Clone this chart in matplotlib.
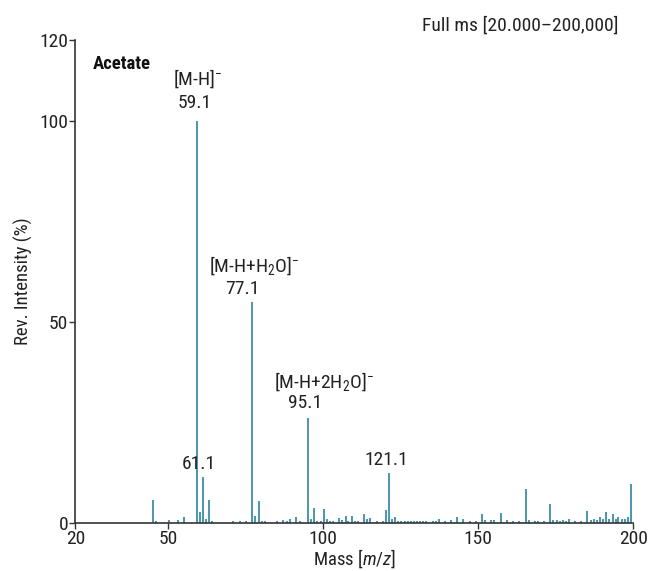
import matplotlib.pyplot as plt
import matplotlib

matplotlib.rcParams['font.family'] = ['Roboto Condensed', 'Archivo Narrow',
                                      'Liberation Sans', 'DejaVu Sans']
matplotlib.rcParams['mathtext.fontset'] = 'custom'
matplotlib.rcParams['mathtext.rm'] = 'Roboto Condensed'
matplotlib.rcParams['mathtext.it'] = 'Roboto Condensed:italic'
matplotlib.rcParams['font.size'] = 13

# m/z and relative intensity (%) of the spectrum lines
mz = [45.0, 46.0, 50.2, 53.1, 55.1, 59.1, 60.1, 61.1, 62.1, 63.0, 64.0,
      71.0, 73.1, 75.1, 77.1, 78.1, 79.2, 80.1, 81.1, 85.2, 87.1, 88.2, 89.3,
      91.2, 92.5, 95.1, 96.1, 97.1, 98.0, 99.3, 100.2, 101.2, 102.1, 103.2,
      105.0, 106.1, 107.2, 108.1, 109.3, 110.3, 111.2, 113.1, 114.1, 115.2,
      117.2, 119.2, 120.1, 121.1, 122.2, 123.1, 124.2, 125.2, 126.2, 127.2,
      128.2, 129.2, 130.2, 131.2, 132.2, 133.2, 135.3, 136.2, 137.2, 139.2,
      141.2, 143.2, 145.2, 147.2, 149.2, 151.2, 152.3, 154.2, 155.2, 157.3,
      159.2, 161.2, 163.1, 165.3, 166.4, 168.2, 169.2, 171.2, 173.1, 174.2,
      175.3, 176.2, 177.2, 178.2, 179.3, 181.2, 183.2, 185.2, 186.3, 187.2,
      188.2, 189.3, 190.2, 191.3, 192.3, 193.4, 194.3, 195.2, 196.3, 197.3,
      198.3, 199.3]
intensity = [5.6, 0.5, 0.7, 0.6, 1.4, 100.0, 2.7, 11.3, 0.9, 5.6, 0.3,
             0.3, 0.5, 0.4, 55.0, 1.7, 5.4, 0.3, 0.5, 0.3, 0.7, 0.5, 0.9,
             1.3, 0.3, 26.1, 0.9, 3.6, 0.4, 0.5, 3.4, 0.9, 0.4, 0.5,
             1.2, 0.6, 1.6, 0.3, 1.7, 0.3, 0.4, 2.1, 0.8, 1.1,
             0.4, 0.5, 3.1, 12.3, 1.0, 1.5, 0.3, 0.3, 0.3, 0.3,
             0.3, 0.3, 0.3, 0.3, 0.3, 0.3, 0.5, 0.4, 0.9, 0.4,
             0.6, 1.5, 0.8, 0.4, 0.4, 2.1, 0.6, 0.7, 0.6, 2.4,
             0.6, 0.4, 0.4, 8.4, 0.6, 0.3, 0.3, 0.4, 4.7, 0.6,
             0.6, 0.5, 0.6, 0.5, 0.9, 0.4, 0.4, 3.0, 0.6, 0.9,
             0.6, 1.3, 0.8, 2.6, 0.8, 2.2, 1.0, 1.4, 0.9, 0.8,
             1.5, 9.6]

# peak annotations: text, x, y (data units)
ion_labels = [
    ('[M-H]$^{-}$', 59.5, 110.5),
    ('59.1', 58.4, 104.3),
    ('[M-H+H$_2$O]$^{-}$', 77.8, 63.9),
    ('77.1', 74.0, 58.2),
    ('[M-H+2H$_2$O]$^{-}$', 100.3, 35.0),
    ('95.1', 94.1, 29.9),
    ('61.1', 59.9, 14.7),
    ('121.1', 120.2, 15.6),
]

xticks = [20, 50, 100, 150, 200]
yticks = [0, 50, 100, 120]

fig = plt.figure(figsize=(6.48, 5.71), dpi=100)
ax = fig.add_axes([0.1162, 0.0846, 0.8611, 0.8448])

ax.vlines(mz, 0, intensity, color='#1a7a98', linewidth=1.1)

ax.set_xlim(20, 200)
ax.set_ylim(0, 120)
ax.set_xticks(xticks)
ax.set_yticks(yticks)
ax.spines['top'].set_visible(False)
ax.spines['right'].set_visible(False)
for s in ['left', 'bottom']:
    ax.spines[s].set_color('#333333')
    ax.spines[s].set_linewidth(1.2)
ax.tick_params(direction='out', length=4, width=1, colors='#333333',
               labelsize=14, pad=1)
for lbl in ax.get_xticklabels() + ax.get_yticklabels():
    lbl.set_color('#222222')

ax.set_xlabel('Mass [$\\it{m/z}$]', fontsize=13.5, color='#222222', labelpad=0)
ax.set_ylabel('Rev. Intensity (%)', fontsize=13.5, color='#222222', labelpad=5)

for txt, x, y in ion_labels:
    ax.text(x, y, txt, ha='center', va='center', fontsize=14, color='#222222')

ax.text(25.5, 114.1, 'Acetate', ha='left', va='center', fontsize=13.5,
        fontweight='bold', color='#111111')
fig.text(0.954, 0.956, 'Full ms [20.000\u2013200,000]', ha='right',
         va='center', fontsize=14, color='#222222')

fig.savefig('out.png', dpi=100)
